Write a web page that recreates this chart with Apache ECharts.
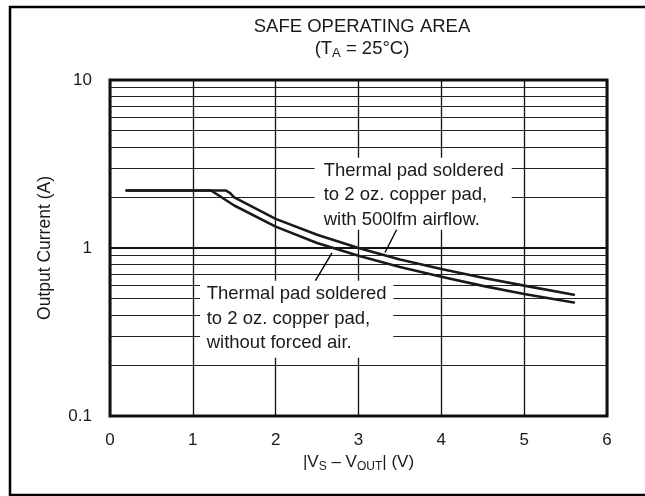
<!DOCTYPE html>
<html>
<head>
<meta charset="utf-8">
<script src="https://cdn.jsdelivr.net/npm/echarts@6/dist/echarts.min.js"></script>
<style>
  html, body { margin: 0; padding: 0; background: #fff; }
  #chart { width: 645px; height: 496px; }
</style>
</head>
<body>
<div id="chart"></div>
<script>
// Supply voltage headroom |VS - VOUT| (V) vs. allowed output current (A)
const airflowX = [0.2, 1.40, 1.45, 1.5, 2.0, 2.5, 3.0, 3.5, 4.0, 4.5, 5.0, 5.6];
const airflowY = [2.2, 2.2, 2.12, 2.0, 1.49, 1.2, 1.0, 0.855, 0.75, 0.665, 0.597, 0.527];
const stillAirX = [0.2, 1.22, 1.5, 2.0, 2.5, 3.0, 3.5, 4.0, 4.5, 5.0, 5.6];
const stillAirY = [2.2, 2.2, 1.79, 1.34, 1.07, 0.9, 0.77, 0.675, 0.595, 0.532, 0.474];

// Log-decade minor grid values
const minorGrid = [0.2, 0.3, 0.4, 0.5, 0.6, 0.7, 0.8, 0.9, 2, 3, 4, 5, 6, 7, 8, 9];
const xTicks = [0, 1, 2, 3, 4, 5, 6];
const yTicks = [0.1, 1, 10];

const airflowNote = ['Thermal pad soldered', 'to 2 oz. copper pad,', 'with 500lfm airflow.'];
const stillAirNote = ['Thermal pad soldered', 'to 2 oz. copper pad,', 'without forced air.'];

const FONT = '"Liberation Sans", Arial, Helvetica, sans-serif';
const INK = '#1a1a1a';

const pair = (xs, ys) => xs.map((x, i) => [x, ys[i]]);

const chart = echarts.init(document.getElementById('chart'), null, { renderer: 'canvas' });

const option = {
  backgroundColor: '#fff',
  animation: false,
  title: {
    text: 'SAFE OPERATING AREA\n(T{sub|A} = 25°C)',
    left: 357,
    top: 11,
    textAlign: 'center',
    textStyle: {
      fontFamily: FONT, fontSize: 18.5, fontWeight: 'normal', color: INK, lineHeight: 22,
      rich: { sub: { fontFamily: FONT, fontSize: 13, color: INK, padding: [9, 0, 0, 0] } }
    }
  },
  grid: {
    left: 110, top: 80, width: 497, height: 336,
    show: true, borderColor: '#111', borderWidth: 3, backgroundColor: 'transparent'
  },
  xAxis: {
    type: 'value', min: xTicks[0], max: xTicks[xTicks.length - 1], interval: 1,
    axisLine: { show: false }, axisTick: { show: false },
    axisLabel: { fontFamily: FONT, fontSize: 17, color: INK, margin: 16 },
    splitLine: { show: true, lineStyle: { color: '#111', width: 1.3 } },
    name: '|V{sub|S} – V{sub|OUT}| (V)',
    nameLocation: 'middle', nameGap: 33,
    nameTextStyle: {
      fontFamily: FONT, fontSize: 17, color: INK,
      rich: { sub: { fontFamily: FONT, fontSize: 12, color: INK, padding: [9, 0, 0, 0] } }
    }
  },
  yAxis: {
    type: 'log', logBase: 10, min: yTicks[0], max: yTicks[yTicks.length - 1],
    axisLine: { show: false }, axisTick: { show: false },
    axisLabel: {
      fontFamily: FONT, fontSize: 17, color: INK, margin: 18,
      formatter: v => String(+v.toPrecision(2))
    },
    splitLine: { show: true, lineStyle: { color: '#111', width: 2.2 } },
    name: 'Output Current (A)',
    nameLocation: 'middle', nameGap: 56, nameRotate: 90,
    nameTextStyle: { fontFamily: FONT, fontSize: 17.5, color: INK }
  },
  series: [
    {
      // minor log grid lines
      type: 'line', data: [], z: 1, silent: true,
      markLine: {
        z: 1, silent: true, symbol: ['none', 'none'], label: { show: false },
        lineStyle: { type: 'solid', color: '#222', width: 1 },
        data: minorGrid.map(v => ({ yAxis: v }))
      }
    },
    {
      name: '500lfm airflow', type: 'line', z: 6, showSymbol: false, symbol: 'none',
      lineStyle: { color: INK, width: 2.6, join: 'round', cap: 'round' },
      data: pair(airflowX, airflowY)
    },
    {
      name: 'no forced air', type: 'line', z: 6, showSymbol: false, symbol: 'none',
      lineStyle: { color: INK, width: 2.6, join: 'round', cap: 'round' },
      data: pair(stillAirX, stillAirY)
    },
    {
      // callout arrows
      type: 'line', data: [], z: 7, silent: true,
      markLine: {
        z: 7, silent: true, symbol: ['none', 'arrow'], symbolSize: [0, 11],
        label: { show: false },
        lineStyle: { type: 'solid', color: '#000', width: 1.4 },
        data: [
          [{ coord: [3.46, 1.285] }, { coord: [3.32, 0.94] }],
          [{ coord: [2.48, 0.639] }, { coord: [2.68, 0.935] }]
        ]
      }
    }
  ]
};

chart.setOption(option);

// Callout text boxes, anchored in data space
function noteBox(topLeft, bottomRight, textLeftX, lines) {
  const p1 = chart.convertToPixel({ gridIndex: 0 }, topLeft);
  const p2 = chart.convertToPixel({ gridIndex: 0 }, bottomRight);
  const tx = chart.convertToPixel({ gridIndex: 0 }, [textLeftX, topLeft[1]])[0];
  return [
    {
      type: 'rect', z: 4, silent: true,
      shape: { x: p1[0], y: p1[1], width: p2[0] - p1[0], height: p2[1] - p1[1] },
      style: { fill: '#fff' }
    },
    {
      type: 'text', z: 5, silent: true,
      x: tx, y: p1[1] + 1,
      style: {
        text: lines.join('\n'), fontFamily: FONT, fontSize: 18.5, lineHeight: 24.5,
        fill: INK, align: 'left', verticalAlign: 'top'
      }
    }
  ];
}

chart.setOption({
  graphic: [
    {
      type: 'rect', z: 10, silent: true,
      shape: { x: 10, y: 7, width: 640, height: 488 },
      style: { fill: null, stroke: '#000', lineWidth: 2.5 }
    },
    ...noteBox([2.47, 3.45], [4.85, 1.285], 2.58, airflowNote),
    ...noteBox([1.087, 0.639], [3.42, 0.222], 1.167, stillAirNote)
  ]
});
</script>
</body>
</html>
